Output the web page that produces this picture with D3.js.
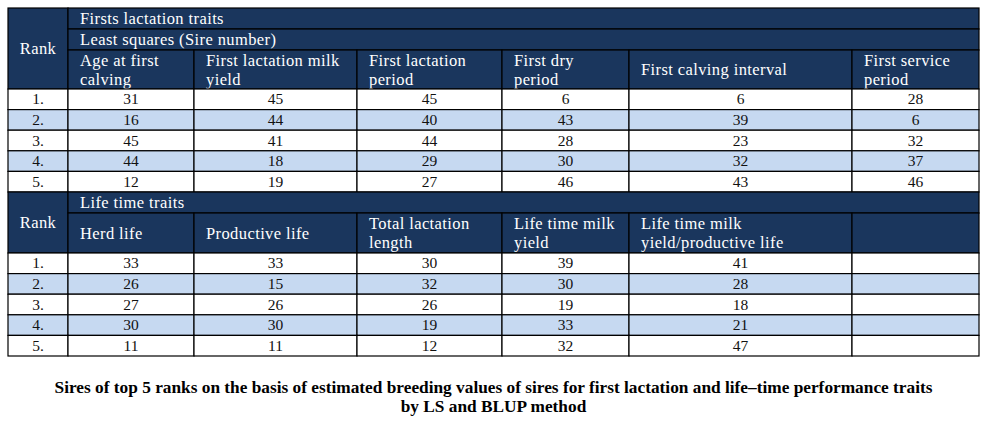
<!DOCTYPE html>
<html>
<head>
<meta charset="utf-8">
<script src="https://cdn.jsdelivr.net/npm/d3@7"></script>
<style>
	body { margin: 0; background: #fff; }
</style>
</head>
<body>
<svg id="chart" width="991" height="421"></svg>
<script>
// Data
var ranks = ["1.", "2.", "3.", "4.", "5."];

var firstGroup = "Firsts lactation traits",
	firstSub = "Least squares (Sire number)";
var firstTraits = [
	["Age at first", "calving"],
	["First lactation milk", "yield"],
	["First lactation", "period"],
	["First dry", "period"],
	["First calving interval"],
	["First service", "period"]
];
var firstValues = [
	[31, 16, 45, 44, 12],
	[45, 44, 41, 18, 19],
	[45, 40, 44, 29, 27],
	[6, 43, 28, 30, 46],
	[6, 39, 23, 32, 43],
	[28, 6, 32, 37, 46]
];

var lifeGroup = "Life time traits";
var lifeTraits = [
	["Herd life"],
	["Productive life"],
	["Total lactation", "length"],
	["Life time milk", "yield"],
	["Life time milk", "yield/productive life"],
	[]
];
var lifeValues = [
	[33, 26, 27, 30, 11],
	[33, 15, 26, 30, 11],
	[30, 32, 26, 19, 12],
	[39, 30, 19, 33, 32],
	[41, 28, 18, 21, 47],
	[]
];

var caption = [
	"Sires of top 5 ranks on the basis of estimated breeding values of sires for first lactation and life\u2013time performance traits",
	"by LS and BLUP method"
];

// Layout
var navy = "#1a365d",
	stripe = "#c6d9f1",
	font = "'Liberation Serif', 'Times New Roman', serif";
var colW = [60, 126, 163, 145, 127, 223, 127];
var left = 8;
var edges = [0].concat(Array.from(d3.cumsum(colW))).map(function(v) { return left + v; });
var right = edges[edges.length - 1];

var x = d3.scaleOrdinal().domain(d3.range(edges.length)).range(edges);

var svg = d3.select("#chart");
var g = svg.append("g");

function cell(x0, x1, y0, y1, fill) {
	return g.append("rect")
		.attr("x", x0).attr("y", y0)
		.attr("width", x1 - x0).attr("height", y1 - y0)
		.style("fill", fill)
		.style("stroke", "#000")
		.style("stroke-width", 1.2);
}

// header text (white, slightly tracked to mimic the wider original face)
function head(txt, xp, yp, anchor) {
	return g.append("text")
		.attr("x", xp).attr("y", yp + 5.5)
		.attr("text-anchor", anchor || "start")
		.style("font-family", font)
		.style("font-size", "16.5px")
		.style("letter-spacing", "0.4px")
		.style("fill", "#fff")
		.text(txt);
}

function num(txt, xp, yp) {
	return g.append("text")
		.attr("x", xp).attr("y", yp + 5)
		.attr("text-anchor", "middle")
		.style("font-family", font)
		.style("font-size", "15.5px")
		.style("fill", "#111")
		.text(txt);
}

function drawBlock(top, groupRows, traitTop, bodyTop, bottom, traits, values) {
	// Rank header spanning header rows
	cell(x(0), x(1), top, bodyTop, navy);
	head("Rank", (x(0) + x(1)) / 2, (top + bodyTop) / 2, "middle");

	// group header rows
	var gh = (traitTop - top) / groupRows.length;
	groupRows.forEach(function(t, i) {
		var y0 = top + i * gh;
		cell(x(1), right, y0, y0 + gh, navy);
		head(t, x(1) + 12, y0 + gh / 2);
	});

	// trait headers
	traits.forEach(function(lines, i) {
		cell(x(i + 1), x(i + 2), traitTop, bodyTop, navy);
		var mid = (traitTop + bodyTop) / 2;
		lines.forEach(function(l, j) {
			head(l, x(i + 1) + 12, mid + (j - (lines.length - 1) / 2) * 19);
		});
	});

	// body rows
	var y = d3.scaleBand().domain(ranks).range([bodyTop, bottom]);
	ranks.forEach(function(r, ri) {
		var fill = ri % 2 ? stripe : "#fff";
		var cy = y(r) + y.bandwidth() / 2;
		cell(x(0), x(1), y(r), y(r) + y.bandwidth(), fill);
		num(r, (x(0) + x(1)) / 2, cy);
		traits.forEach(function(t, ci) {
			cell(x(ci + 1), x(ci + 2), y(r), y(r) + y.bandwidth(), fill);
			var v = values[ci][ri];
			if (v != null) num(v, (x(ci + 1) + x(ci + 2)) / 2, cy);
		});
	});
}

drawBlock(8, [firstGroup, firstSub], 50, 89, 192, firstTraits, firstValues);
drawBlock(192, [lifeGroup], 213, 253, 356, lifeTraits, lifeValues);

// Caption, sized so the first line spans the same width as the original
var capSize = 16;
var cap = g.selectAll("text.caption")
	.data(caption)
	.enter().append("text")
	.attr("class", "caption")
	.attr("x", 493.5)
	.attr("y", function(d, i) { return 393 + i * 19; })
	.attr("text-anchor", "middle")
	.style("font-family", font)
	.style("font-weight", "bold")
	.style("font-size", capSize + "px")
	.style("fill", "#000")
	.text(function(d) { return d; });
var w = cap.node().getComputedTextLength();
if (w > 0) cap.style("font-size", (capSize * 879 / w) + "px");
</script>
</body>
</html>
